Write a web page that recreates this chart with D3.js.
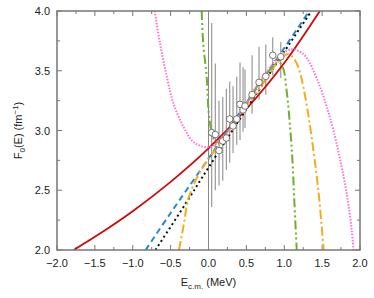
<!DOCTYPE html>
<html>
<head>
<meta charset="utf-8">
<script src="https://cdn.jsdelivr.net/npm/d3@7"></script>
<style>
  body { margin: 0; background: #fff; }
  svg { font-family: "Liberation Sans", Arial, sans-serif; }
</style>
</head>
<body>
<div id="chart"></div>
<script>
// data: [E (MeV), F0 (fm^-1)]
const redCurve = [[-1.78, 2.0], [-1.5, 2.11], [-1.0, 2.325], [-0.5, 2.57], [0, 2.85],
  [0.5, 3.18], [1.0, 3.565], [1.47, 4.0]];
const blueCurve = [[-0.83, 2.0], [-0.5, 2.31], [0, 2.765], [0.5, 3.23], [1.0, 3.69], [1.33, 4.0]];
const blackCurve = [[-0.70, 2.0], [-0.3, 2.39], [0, 2.69], [0.5, 3.18], [1.0, 3.66], [1.36, 4.0]];
const orangeCurve = [[-0.39, 2.0], [-0.33, 2.2], [-0.27, 2.42], [-0.2, 2.54], [-0.11, 2.655], [0, 2.76],
  [0.25, 2.98], [0.5, 3.2], [0.75, 3.42], [0.9, 3.56], [1.05, 3.64], [1.15, 3.58], [1.21, 3.48],
  [1.25, 3.37], [1.30, 3.20], [1.36, 2.95], [1.45, 2.50], [1.52, 2.0]];
const greenCurve = [[-0.09, 4.0], [-0.07, 3.73], [-0.024, 3.45], [0, 3.17], [0.03, 3.02], [0.07, 2.93],
  [0.13, 2.9], [0.2, 2.95], [0.4, 3.13], [0.6, 3.33], [0.8, 3.5], [0.92, 3.57], [0.98, 3.53],
  [1.03, 3.34], [1.077, 3.03], [1.11, 2.73], [1.13, 2.45], [1.165, 2.0]];
const pinkCurve = [[-0.71, 4.0], [-0.64, 3.73], [-0.55, 3.45], [-0.465, 3.23], [-0.33, 3.03], [-0.2, 2.905],
  [-0.05, 2.862], [0.05, 2.87], [0.2, 2.95], [0.4, 3.12], [0.6, 3.34], [0.8, 3.52], [0.95, 3.63],
  [1.1, 3.68], [1.25, 3.64], [1.34, 3.56], [1.47, 3.37], [1.56, 3.20], [1.65, 3.0], [1.74, 2.75],
  [1.83, 2.45], [1.89, 2.17], [1.915, 2.0]];

// measured points: E, F, lower, upper
const pointE = [0.042, 0.09, 0.139, 0.188, 0.236, 0.280, 0.324, 0.373, 0.416, 0.456, 0.482, 0.575, 0.667, 0.756, 0.848, 0.954];
const pointF = [2.982, 2.966, 2.832, 2.912, 2.937, 3.096, 3.038, 3.096, 3.219, 3.172, 3.205, 3.300, 3.403, 3.453, 3.629, 3.617];
const pointLo = [2.36, 2.50, 2.54, 2.58, 2.67, 2.73, 2.81, 2.88, 2.92, 2.99, 3.02, 3.14, 3.26, 3.30, 3.46, 3.44];
const pointHi = [3.90, 3.56, 3.25, 3.28, 3.35, 3.41, 3.37, 3.45, 3.57, 3.53, 3.51, 3.63, 3.70, 3.72, 3.78, 3.74];

const xTicks = [-2.0, -1.5, -1.0, -0.5, 0.0, 0.5, 1.0, 1.5, 2.0];
const yTicks = [2.0, 2.5, 3.0, 3.5, 4.0];

const margin = { top: 11, right: 14, bottom: 48, left: 57 };
const width = 374 - margin.left - margin.right;
const height = 298 - margin.top - margin.bottom;

const svg = d3.select('#chart').append('svg')
  .attr('width', 374)
  .attr('height', 298);

const g = svg.append('g').attr('transform', `translate(${margin.left},${margin.top})`);

const x = d3.scaleLinear().domain([-2, 2]).range([0, width]);
const y = d3.scaleLinear().domain([2, 4]).range([height, 0]);

g.append('clipPath').attr('id', 'clip')
  .append('rect').attr('width', width).attr('height', height);

const frameColor = '#777';
const fmt = d => d3.format('.1f')(d).replace('-', '\u2212');

// minor + major ticks, inward on all four sides
const xMinor = d3.range(-2, 2.001, 0.25);
const yMinor = d3.range(2, 4.001, 0.25);
const tickG = g.append('g').attr('stroke', frameColor).attr('stroke-width', 1);
xMinor.forEach(v => {
  const len = Math.abs(v * 2 - Math.round(v * 2)) < 1e-6 ? 5 : 3;
  tickG.append('line').attr('x1', x(v)).attr('x2', x(v)).attr('y1', height).attr('y2', height - len);
  tickG.append('line').attr('x1', x(v)).attr('x2', x(v)).attr('y1', 0).attr('y2', len);
});
yMinor.forEach(v => {
  const len = Math.abs(v * 2 - Math.round(v * 2)) < 1e-6 ? 5 : 3;
  tickG.append('line').attr('x1', 0).attr('x2', len).attr('y1', y(v)).attr('y2', y(v));
  tickG.append('line').attr('x1', width).attr('x2', width - len).attr('y1', y(v)).attr('y2', y(v));
});

// tick labels
g.selectAll('.xlab').data(xTicks).join('text')
  .attr('x', d => x(d)).attr('y', height + 17)
  .attr('text-anchor', 'middle').attr('font-size', 11).attr('fill', '#222')
  .text(fmt);
g.selectAll('.ylab').data(yTicks).join('text')
  .attr('x', -7).attr('y', d => y(d) + 4)
  .attr('text-anchor', 'end').attr('font-size', 11).attr('fill', '#222')
  .text(fmt);

// axis titles
const xt = g.append('text').attr('x', width / 2).attr('y', height + 36)
  .attr('text-anchor', 'middle').attr('font-size', 11).attr('fill', '#222');
xt.append('tspan').text('E');
xt.append('tspan').attr('font-size', 8).attr('dy', 3).text('c.m.');
xt.append('tspan').attr('dy', -3).text(' (MeV)');

const yt = g.append('text')
  .attr('transform', `translate(${-35},${height / 2}) rotate(-90)`)
  .attr('text-anchor', 'middle').attr('font-size', 11).attr('fill', '#222');
yt.append('tspan').text('F');
yt.append('tspan').attr('font-size', 8).attr('dy', 3).text('0');
yt.append('tspan').attr('dy', -3).text('(E) (fm');
yt.append('tspan').attr('font-size', 8).attr('dy', -4).text('\u22121');
yt.append('tspan').attr('dy', 4).text(')');

const plot = g.append('g').attr('clip-path', 'url(#clip)');

// E = 0 line
plot.append('line')
  .attr('x1', x(0)).attr('x2', x(0)).attr('y1', 0).attr('y2', height)
  .attr('stroke', '#888').attr('stroke-width', 1);

// error bars
plot.selectAll('.err').data(pointE).join('line')
  .attr('x1', d => x(d)).attr('x2', d => x(d))
  .attr('y1', (d, i) => y(pointLo[i])).attr('y2', (d, i) => y(pointHi[i]))
  .attr('stroke', '#999').attr('stroke-width', 1.2);

const line = d3.line().x(d => x(d[0])).y(d => y(d[1])).curve(d3.curveCatmullRom.alpha(0.5));

const curves = [
  { data: redCurve, color: '#cc0a0a', dash: null, w: 1.8 },
  { data: blueCurve, color: '#1f8ad2', dash: '6,4', w: 2 },
  { data: blackCurve, color: '#111', dash: '2,3', w: 2 },
  { data: orangeCurve, color: '#f2ad1d', dash: '9,3,2,3', w: 2 },
  { data: greenCurve, color: '#74ad2e', dash: '9,3,2,3,2,3', w: 2 },
  { data: pinkCurve, color: '#ff70d0', dash: '1.5,1.5', w: 2 },
];

plot.selectAll('.curve').data(curves).join('path')
  .attr('d', d => line(d.data))
  .attr('fill', 'none')
  .attr('stroke', d => d.color)
  .attr('stroke-width', d => d.w)
  .attr('stroke-dasharray', d => d.dash);

// points
plot.selectAll('.pt').data(pointE).join('circle')
  .attr('cx', d => x(d)).attr('cy', (d, i) => y(pointF[i]))
  .attr('r', 3.3)
  .attr('fill', '#fff').attr('stroke', '#555').attr('stroke-width', 0.8);

// frame
g.append('rect').attr('width', width).attr('height', height)
  .attr('fill', 'none').attr('stroke', frameColor).attr('stroke-width', 1.5);
</script>
</body>
</html>
